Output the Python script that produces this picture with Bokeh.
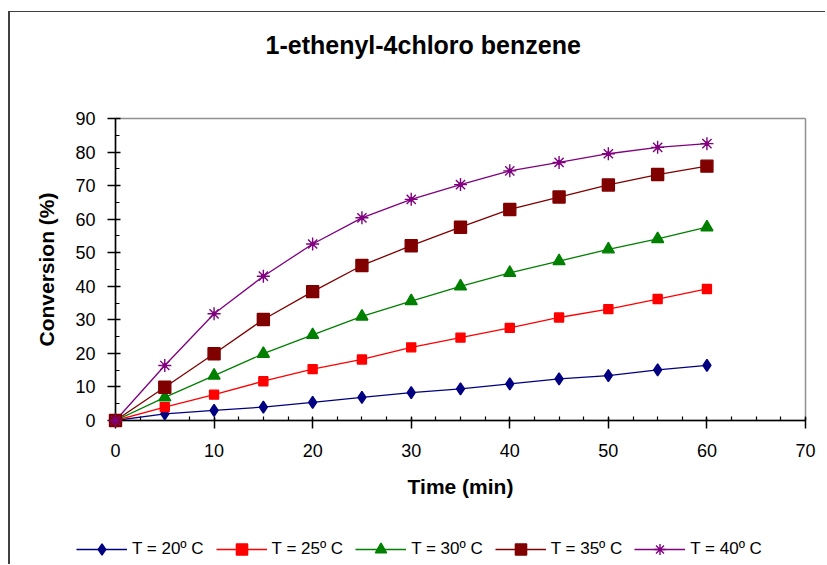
from bokeh.plotting import figure
from bokeh.models import Range1d, Legend, FixedTicker, LinearAxis
from bokeh.embed import file_html
from bokeh.resources import INLINE

# ---- data ----
time_min = [0, 5, 10, 15, 20, 25, 30, 35, 40, 45, 50, 55, 60]
t20 = [0, 2.0, 3.0, 4.0, 5.4, 6.9, 8.3, 9.4, 10.9, 12.4, 13.4, 15.1, 16.4]
t25 = [0, 4.0, 7.7, 11.7, 15.3, 18.2, 21.8, 24.7, 27.6, 30.7, 33.2, 36.2, 39.2]
t30 = [0, 6.9, 13.4, 19.9, 25.5, 31.0, 35.6, 40.0, 44.0, 47.5, 51.0, 54.1, 57.6]
t35 = [0, 9.9, 19.9, 30.1, 38.4, 46.2, 52.1, 57.6, 62.9, 66.6, 70.2, 73.3, 75.8]
t40 = [0, 16.4, 31.8, 43.0, 52.6, 60.4, 65.9, 70.3, 74.4, 76.9, 79.5, 81.4, 82.5]
labels = ["T = 20º C", "T = 25º C", "T = 30º C", "T = 35º C", "T = 40º C"]
x_ticks = [0, 10, 20, 30, 40, 50, 60, 70]
y_ticks = [0, 10, 20, 30, 40, 50, 60, 70, 80, 90]
title_text = "1-ethenyl-4chloro benzene"
x_label = "Time (min)"
y_label = "Conversion (%)"

FONT = "Liberation Sans"

p = figure(width=817, height=515, output_backend="svg", toolbar_location=None,
           x_range=Range1d(0, 70), y_range=Range1d(0, 90),
           min_border_left=105, min_border_right=22, min_border_top=106,
           min_border_bottom=107)
p.styles = {"margin-left": "8px", "margin-top": "11px",
            "border-left": "2px solid #404040",
            "border-top": "1px solid #404040"}
p.grid.visible = False
p.outline_line_color = "#909090"
p.outline_line_width = 1.5
p.background_fill_color = "white"
p.border_fill_color = "white"

xa = p.below[0]
ya = p.left[0]

# invisible spacer between the title and the frame
p.add_layout(LinearAxis(ticker=FixedTicker(ticks=[70]), axis_line_color=None,
                        major_tick_in=0, major_tick_out=55,
                        minor_tick_in=0, minor_tick_out=0,
                        major_tick_line_color="white", major_tick_line_width=0.5,
                        minor_tick_line_color=None,
                        major_label_overrides={70: ""},
                        major_label_text_font_size="0px",
                        major_label_standoff=0),
             "above")

p.title.text = title_text
p.title.align = "left"
p.title.offset = 150
p.title.vertical_align = "bottom"
p.title.standoff = 10
p.title.text_font = FONT
p.title.text_font_size = "25px"
p.title.text_font_style = "bold"
p.title.text_color = "black"

xa.ticker = FixedTicker(ticks=x_ticks, minor_ticks=[i * 2.5 for i in range(29)])
ya.ticker = FixedTicker(ticks=y_ticks, minor_ticks=[i * 5 for i in range(19)])

for ax in (xa, ya):
    ax.axis_line_color = "black"
    ax.axis_line_width = 1.5
    ax.major_tick_line_color = "black"
    ax.major_tick_line_width = 1.5
    ax.minor_tick_line_color = "black"
    ax.minor_tick_line_width = 1.2
    ax.major_label_text_font = FONT
    ax.major_label_text_font_size = "18px"
    ax.major_label_text_color = "black"
    ax.axis_label_text_font = FONT
    ax.axis_label_text_font_size = "21px"
    ax.axis_label_text_font_style = "bold"
    ax.axis_label_text_color = "black"
    ax.minor_tick_in = 4
    ax.minor_tick_out = 0

xa.axis_label = x_label
ya.axis_label = y_label
xa.major_tick_in = 3
xa.major_tick_out = 8
ya.major_tick_in = 5
ya.major_tick_out = 8
xa.major_label_standoff = 15
ya.major_label_standoff = 12
xa.axis_label_standoff = 15
ya.axis_label_standoff = 14

series = [
    (t20, "#000080", "diamond", 12),
    (t25, "#FF0000", "square", 9),
    (t30, "#008000", "triangle", 12),
    (t35, "#800000", "square", 12),
    (t40, "#800080", "asterisk", 13),
]

# legend strip: its own small figure under the chart (ranges keep proxies out of view)
pl = figure(width=817, height=38, output_backend="svg", toolbar_location=None,
            x_range=Range1d(1000, 1001), y_range=Range1d(1000, 1001),
            x_axis_location=None, y_axis_location=None, min_border=0)
pl.styles = {"margin-left": "8px", "border-left": "2px solid #404040"}
pl.grid.visible = False
pl.outline_line_color = None
pl.border_fill_color = "white"
pl.background_fill_color = "white"

legend_items = []
for (vals, col, mk, sz), lab in zip(series, labels):
    p.line(time_min, vals, line_color=col, line_width=1.3)
    p.scatter(time_min, vals, marker=mk, size=sz,
              fill_color=col, line_color=col, line_width=1.4, level="overlay")
    l1 = pl.line(time_min, vals, line_color=col, line_width=1.3)
    l2 = pl.scatter(time_min, vals, marker=mk, size=sz,
                    fill_color=col, line_color=col, line_width=1.4)
    rs = [l1, l2]
    if mk == "asterisk":
        p.scatter(time_min, vals, marker="circle", size=4, fill_color=col,
                  line_color=col, level="overlay")
    legend_items.append((lab, rs))

legend = Legend(items=legend_items, orientation="horizontal",
                location=(66, 1), padding=0, margin=0, spacing=12,
                glyph_width=51, glyph_height=28, label_height=28,
                label_standoff=5, border_line_color=None,
                background_fill_alpha=0,
                label_text_font=FONT, label_text_font_size="17px",
                label_text_color="black")
pl.add_layout(legend)

open("out.html", "w").write(file_html([p, pl], INLINE))
